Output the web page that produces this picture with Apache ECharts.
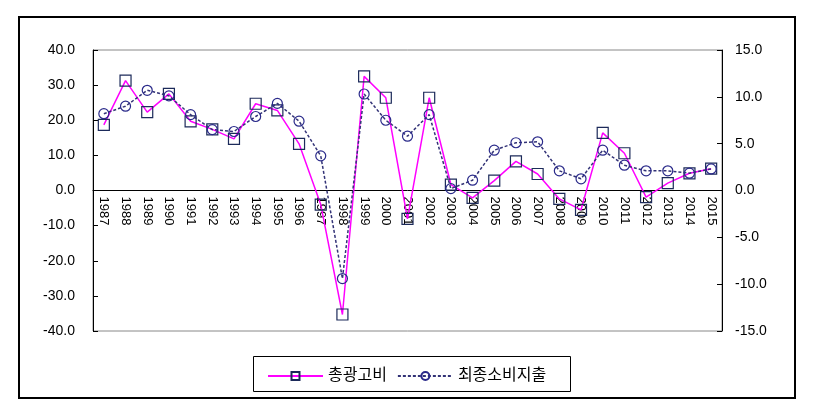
<!DOCTYPE html>
<html><head><meta charset="utf-8">
<script src="https://cdn.jsdelivr.net/npm/echarts@6/dist/echarts.min.js"></script>
<style>html,body{margin:0;padding:0;background:#fff}#c{width:816px;height:420px}</style>
</head><body><div id="c"></div>
<script>
const years = ['1987','1988','1989','1990','1991','1992','1993','1994','1995','1996','1997','1998','1999','2000','2001','2002','2003','2004','2005','2006','2007','2008','2009','2010','2011','2012','2013','2014','2015'];
const adSpend = [18.7,31.3,22.3,27.5,19.7,17.4,14.7,24.7,22.8,13.3,-4.0,-35.3,32.5,26.4,-8.1,26.4,1.7,-2.1,2.8,8.3,4.7,-2.4,-5.5,16.4,10.6,-1.9,2.1,4.9,6.2];
const consumption = [8.2,9.0,10.7,10.1,8.1,6.5,6.3,7.9,9.3,7.4,3.7,-9.4,10.3,7.5,5.8,8.1,0.2,1.1,4.3,5.1,5.2,2.1,1.25,4.3,2.7,2.1,2.1,1.85,2.3];
const seriesNames = ['총광고비','최종소비지출'];
const leftTicks = {min:-40,max:40,interval:10};
const rightTicks = {min:-15,max:15,interval:5};

const chart = echarts.init(document.getElementById('c'));
const font = 'Arial, "Liberation Sans", "Noto Sans CJK KR", sans-serif';
const gridTop = 50, gridBottom = 89, H = 420;
const zeroOffset = -((H - gridTop - gridBottom) / 2);
chart.setOption({
  animation:false,
  textStyle:{fontFamily:font},
  grid:{left:93,right:94,top:gridTop,bottom:gridBottom,show:true,borderColor:'#888',borderWidth:1,backgroundColor:'transparent'},
  legend:{
    left:262,top:363,itemWidth:55,itemHeight:10,itemGap:10,
    textStyle:{fontSize:16,color:'#000',fontFamily:font},
    data:seriesNames
  },
  graphic:[
    {type:'rect',shape:{x:19,y:17,width:776,height:381},style:{fill:'none',stroke:'#000',lineWidth:2},silent:true},
    {type:'rect',shape:{x:253.5,y:356.5,width:317,height:35},style:{fill:'none',stroke:'#000',lineWidth:1},silent:true}
  ],
  xAxis:{
    type:'category',data:years,boundaryGap:true,position:'bottom',offset:zeroOffset,
    axisLine:{onZero:false,lineStyle:{color:'#000',width:1}},
    axisTick:{inside:true,length:5,lineStyle:{color:'#000'}},
    axisLabel:{rotate:-90,color:'#000',fontSize:13,margin:6,interval:0,fontFamily:font}
  },
  yAxis:[
    {type:'value',min:leftTicks.min,max:leftTicks.max,interval:leftTicks.interval,
     axisLine:{show:true,lineStyle:{color:'#000'}},axisTick:{show:true,inside:true,length:5,lineStyle:{color:'#000'}},
     splitLine:{show:false},axisLabel:{color:'#000',fontSize:14,margin:18,formatter:v=>v.toFixed(1)}},
    {type:'value',min:rightTicks.min,max:rightTicks.max,interval:rightTicks.interval,position:'right',
     axisLine:{show:true,lineStyle:{color:'#000'}},axisTick:{show:true,inside:true,length:5,lineStyle:{color:'#000'}},
     splitLine:{show:false},axisLabel:{color:'#000',fontSize:14,margin:13,formatter:v=>v.toFixed(1)}}
  ],
  series:[
    {name:seriesNames[0],type:'line',yAxisIndex:0,data:adSpend,symbol:'rect',symbolSize:11,
     lineStyle:{color:'#ff00ff',width:1.5},
     itemStyle:{color:'rgba(255,255,255,0)',borderColor:'#1c2a5a',borderWidth:1.2},z:2},
    {name:seriesNames[1],type:'line',yAxisIndex:1,data:consumption,symbol:'circle',symbolSize:10,
     lineStyle:{color:'#333377',width:1.5,type:[3,2]},
     itemStyle:{color:'rgba(255,255,255,0)',borderColor:'#2a2a8a',borderWidth:1.2},z:3}
  ]
});
</script></body></html>
